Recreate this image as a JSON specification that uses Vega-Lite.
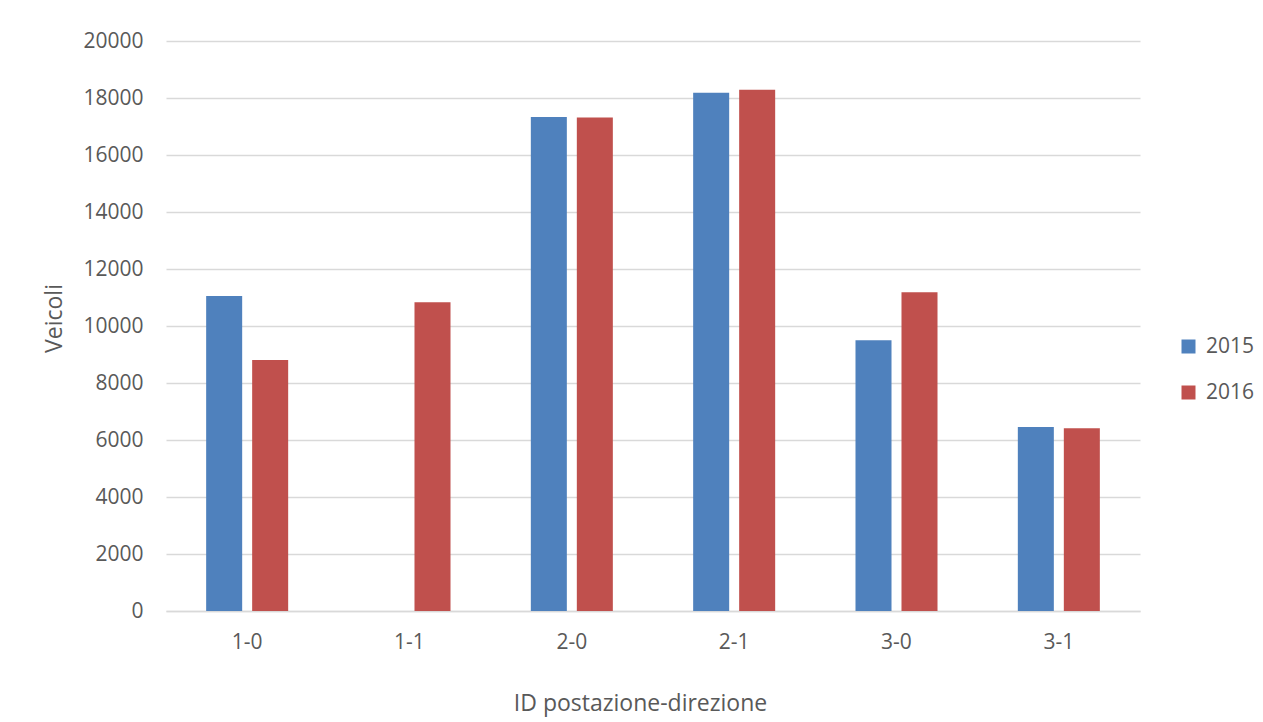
{
  "$schema": "https://vega.github.io/schema/vega-lite/v6.json",
  "autosize": {"type": "none"},
  "width": 974,
  "height": 570,
  "padding": {"left": 166, "top": 41, "right": 123, "bottom": 111},
  "background": "white",
  "data": {
    "values": [
      {"postazione": "1-0", "anno": "2015", "veicoli": 11050},
      {"postazione": "1-0", "anno": "2016", "veicoli": 8810},
      {"postazione": "1-1", "anno": "2016", "veicoli": 10830},
      {"postazione": "2-0", "anno": "2015", "veicoli": 17330},
      {"postazione": "2-0", "anno": "2016", "veicoli": 17320},
      {"postazione": "2-1", "anno": "2015", "veicoli": 18180},
      {"postazione": "2-1", "anno": "2016", "veicoli": 18290},
      {"postazione": "3-0", "anno": "2015", "veicoli": 9500},
      {"postazione": "3-0", "anno": "2016", "veicoli": 11180},
      {"postazione": "3-1", "anno": "2015", "veicoli": 6460},
      {"postazione": "3-1", "anno": "2016", "veicoli": 6410}
    ]
  },
  "mark": {"type": "bar"},
  "encoding": {
    "x": {
      "field": "postazione",
      "type": "nominal",
      "sort": null,
      "scale": {"paddingInner": 0, "paddingOuter": 0},
      "axis": {
        "title": "ID postazione-direzione",
        "labelAngle": 0,
        "ticks": false,
        "domainColor": "#d9d9d9",
        "domainWidth": 1.3,
        "labelPadding": 20,
        "titlePadding": 40,
        "titleX": 474
      }
    },
    "xOffset": {
      "field": "anno",
      "type": "nominal",
      "scale": {"domain": ["2015", "2016"], "paddingInner": 0.217, "paddingOuter": 0.873}
    },
    "y": {
      "field": "veicoli",
      "type": "quantitative",
      "scale": {"domain": [0, 20000], "nice": false},
      "axis": {
        "title": "Veicoli",
        "values": [0, 2000, 4000, 6000, 8000, 10000, 12000, 14000, 16000, 18000, 20000],
        "format": "d",
        "domain": false,
        "ticks": false,
        "gridColor": "#d9d9d9",
        "gridWidth": 1.3,
        "labelPadding": 23,
        "titlePadding": 16,
        "titleY": 277
      }
    },
    "color": {
      "field": "anno",
      "type": "nominal",
      "scale": {"domain": ["2015", "2016"], "range": ["#4f81bd", "#c0504d"]},
      "legend": {
        "title": null,
        "orient": "none",
        "legendX": 1012,
        "legendY": 295,
        "symbolType": "square",
        "symbolSize": 196,
        "symbolStrokeWidth": 0,
        "rowPadding": 24,
        "labelOffset": 7
      }
    }
  },
  "config": {
    "view": {"stroke": null},
    "font": "Open Sans",
    "axis": {
      "labelFont": "Open Sans",
      "labelFontSize": 21,
      "labelColor": "#595959",
      "titleFont": "Open Sans",
      "titleFontSize": 23,
      "titleFontWeight": "normal",
      "titleColor": "#595959"
    },
    "legend": {
      "labelFont": "Open Sans",
      "labelFontSize": 21,
      "labelColor": "#595959"
    }
  }
}
